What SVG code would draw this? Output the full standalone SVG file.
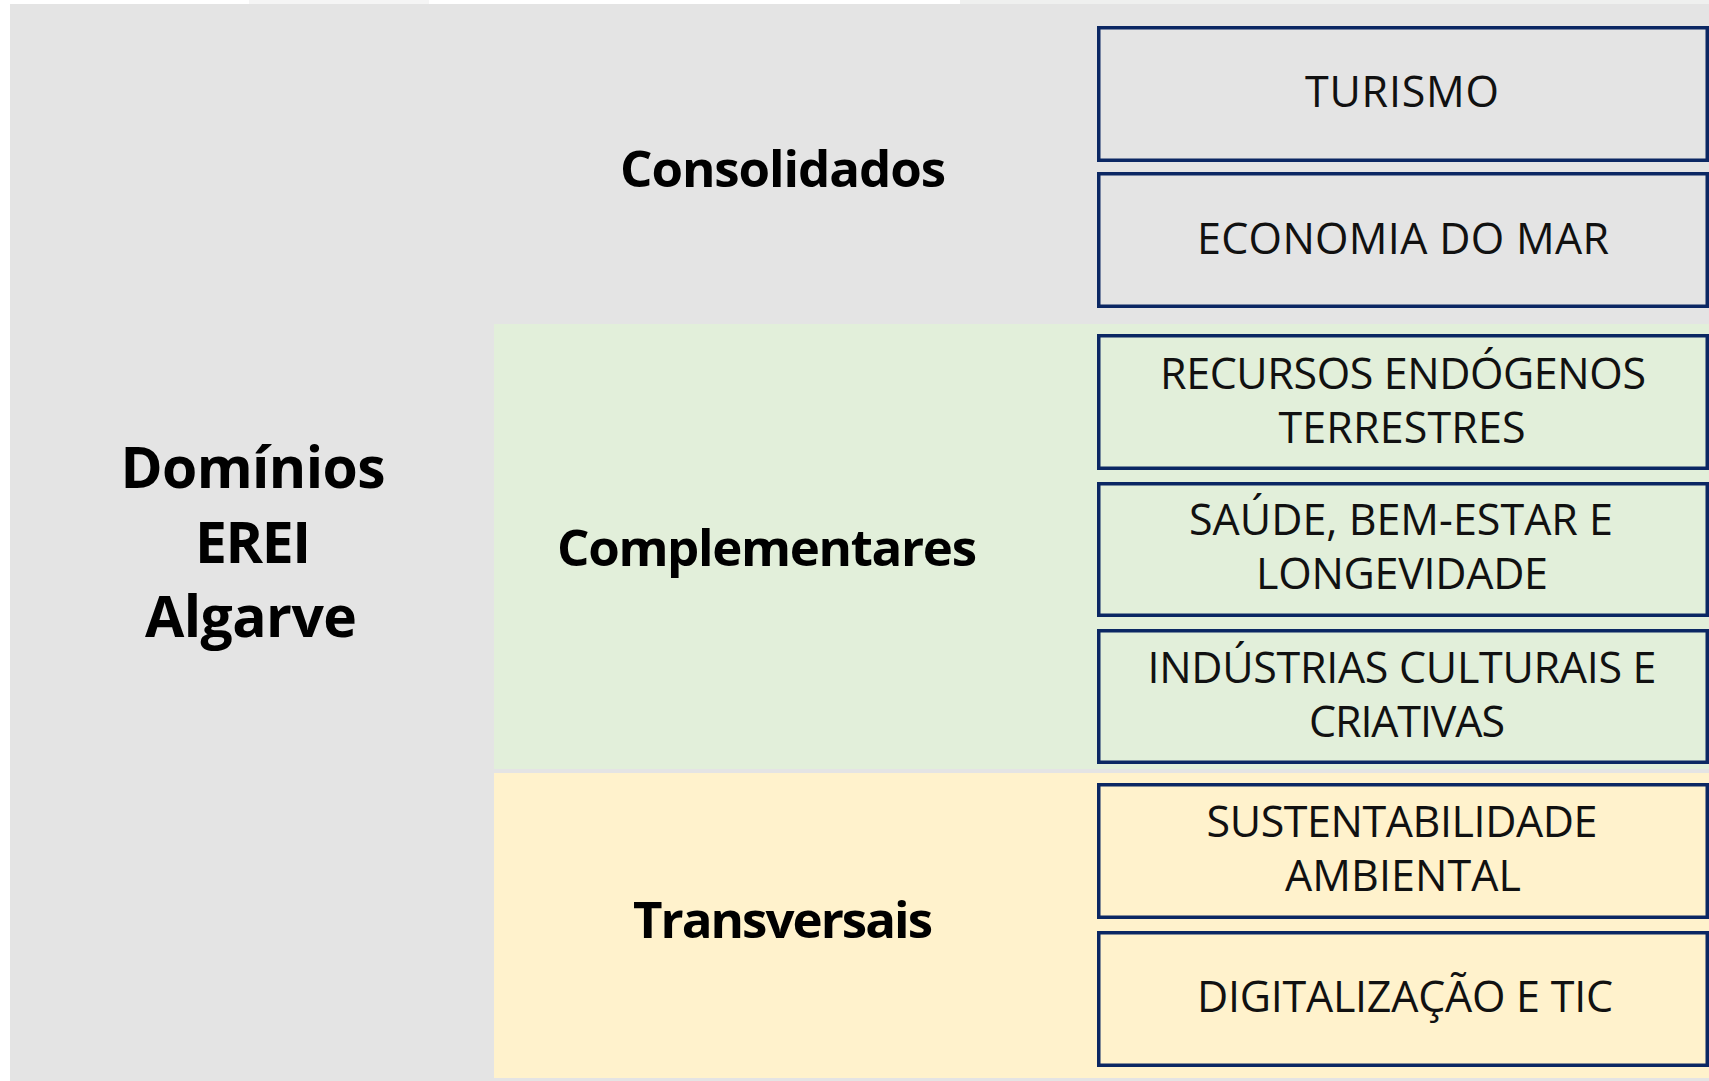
<svg xmlns="http://www.w3.org/2000/svg" width="1709" height="1081" viewBox="0 0 1709 1081">
  <style>
    .box { fill: none; stroke: #0B2763; stroke-width: 3.5; }
    .lbl { font-family: "Open Sans", "Liberation Sans", sans-serif; font-size: 43px; fill: #111111; text-anchor: middle; }
    .cat { font-family: "Open Sans", "Liberation Sans", sans-serif; font-weight: bold; font-size: 51px; fill: #000000; text-anchor: middle; }
    .title { font-family: "Open Sans", "Liberation Sans", sans-serif; font-weight: bold; font-size: 57px; fill: #000000; text-anchor: middle; }
  </style>
  <rect x="0" y="0" width="1709" height="1081" fill="#FFFFFF"/>
  <rect x="249" y="0" width="180" height="4" fill="#F5F5F5"/>
  <rect x="960" y="0" width="749" height="4" fill="#EFF0EF"/>
  <g id="panels">
    <rect id="panel-main" x="10" y="4" width="1699" height="1077" fill="#E4E4E4"/>
    <rect id="panel-complementares" x="494" y="324" width="1215" height="445" fill="#E2EFDA"/>
    <rect id="panel-transversais" x="494" y="773" width="1215" height="305" fill="#FFF2CC"/>
  </g>
  <g id="title">
    <text class="title" x="253" y="488" textLength="265">Domínios</text>
    <text class="title" x="253" y="563" textLength="116">EREI</text>
    <text class="title" x="251" y="637" textLength="212">Algarve</text>
  </g>
  <g id="cat-consolidados"><text class="cat" x="783" y="187" textLength="326">Consolidados</text></g>
  <g id="cat-complementares"><text class="cat" x="767" y="566" textLength="420">Complementares</text></g>
  <g id="cat-transversais"><text class="cat" x="783" y="938" textLength="300">Transversais</text></g>
  <g id="node-turismo">
    <rect class="box" x="1098.75" y="27.75" width="608.5" height="132.5"/>
    <text class="lbl" x="1402" y="107" textLength="194">TURISMO</text>
  </g>
  <g id="node-economia-mar">
    <rect class="box" x="1098.75" y="173.75" width="608.5" height="132.5"/>
    <text class="lbl" x="1403" y="254" textLength="412">ECONOMIA DO MAR</text>
  </g>
  <g id="node-recursos">
    <rect class="box" x="1098.75" y="335.75" width="608.5" height="132.5"/>
    <text class="lbl" x="1403" y="389" textLength="486">RECURSOS ENDÓGENOS</text>
    <text class="lbl" x="1402" y="443" textLength="247">TERRESTRES</text>
  </g>
  <g id="node-saude">
    <rect class="box" x="1098.75" y="483.75" width="608.5" height="131.5"/>
    <text class="lbl" x="1401" y="535" textLength="424">SAÚDE, BEM-ESTAR E</text>
    <text class="lbl" x="1402" y="589" textLength="292">LONGEVIDADE</text>
  </g>
  <g id="node-industrias">
    <rect class="box" x="1098.75" y="630.75" width="608.5" height="131.5"/>
    <text class="lbl" x="1402" y="683" textLength="509">INDÚSTRIAS CULTURAIS E</text>
    <text class="lbl" x="1407" y="737" textLength="196">CRIATIVAS</text>
  </g>
  <g id="node-sustentabilidade">
    <rect class="box" x="1098.75" y="784.75" width="608.5" height="132.5"/>
    <text class="lbl" x="1402" y="837" textLength="391">SUSTENTABILIDADE</text>
    <text class="lbl" x="1403" y="891" textLength="236">AMBIENTAL</text>
  </g>
  <g id="node-digitalizacao">
    <rect class="box" x="1098.75" y="932.75" width="608.5" height="132.5"/>
    <text class="lbl" x="1405" y="1012" textLength="416">DIGITALIZAÇÃO E TIC</text>
  </g>
  <g id="connectors"></g>
</svg>
